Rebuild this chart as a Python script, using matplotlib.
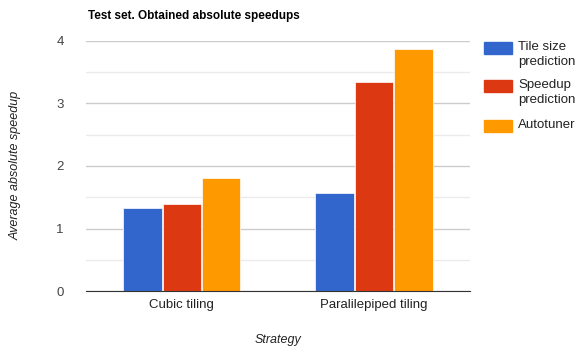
import numpy as np
import matplotlib.pyplot as plt
from matplotlib.patches import Rectangle

plt.rcParams['font.family'] = ['Liberation Sans', 'DejaVu Sans']

categories = ['Cubic tiling', 'Paralilepiped tiling']
series_names = ['Tile size\nprediction', 'Speedup\nprediction', 'Autotuner']
tile_size = [1.33, 1.57]
speedup = [1.39, 3.34]
autotuner = [1.81, 3.87]
colors = ['#3366CC', '#DC3912', '#FF9900']

W, H = 576, 352
fig = plt.figure(figsize=(W / 100, H / 100), dpi=100)
ax = fig.add_axes([0.149, 0.173, 0.667, 0.711])

x = np.arange(len(categories))
w = 0.2
for i, vals in enumerate([tile_size, speedup, autotuner]):
    ax.bar(x + (i - 1) * (w + 0.005), vals, width=w, color=colors[i],
           zorder=3, edgecolor='white', linewidth=0.5)

ax.set_xlim(-0.5, 1.5)
ax.set_ylim(0, 4)
ax.set_yticks([0, 1, 2, 3, 4])
ax.set_yticks([0.5, 1.5, 2.5, 3.5], minor=True)
ax.grid(axis='y', which='major', color='#cccccc', linewidth=1, zorder=0)
ax.grid(axis='y', which='minor', color='#ebebeb', linewidth=1, zorder=0)
ax.set_xticks(x)
ax.set_xticklabels(categories, fontsize=9.5, color='#222222')
ax.tick_params(axis='both', which='both', length=0)
ax.tick_params(axis='y', labelsize=9.5, labelcolor='#444444', pad=16)
ax.tick_params(axis='x', pad=6)
for s in ['top', 'right', 'left']:
    ax.spines[s].set_visible(False)
ax.spines['bottom'].set_color('#333333')
ax.spines['bottom'].set_zorder(4)

fig.text(0.153, 0.955, 'Test set. Obtained absolute speedups', fontsize=8.5,
         fontweight='bold', ha='left', va='center')
fig.text(0.027, 0.53, 'Average absolute speedup', rotation=90, fontsize=9,
         style='italic', ha='center', va='center', color='#222222')
fig.text(0.483, 0.035, 'Strategy', fontsize=9, style='italic',
         ha='center', va='center', color='#222222')

# legend, drawn by hand so the swatch sits on the first text line
legend_tops = [42, 80, 120]
for name, col, top in zip(series_names, colors, legend_tops):
    fig.patches.append(Rectangle((484 / W, 1 - (top + 12) / H), 28 / W, 12 / H,
                                 transform=fig.transFigure, color=col))
    fig.text(518 / W, 1 - (top - 1) / H, name, fontsize=9.5, ha='left',
             va='top', linespacing=1.3, color='#222222')

fig.savefig('out.png', dpi=100)
